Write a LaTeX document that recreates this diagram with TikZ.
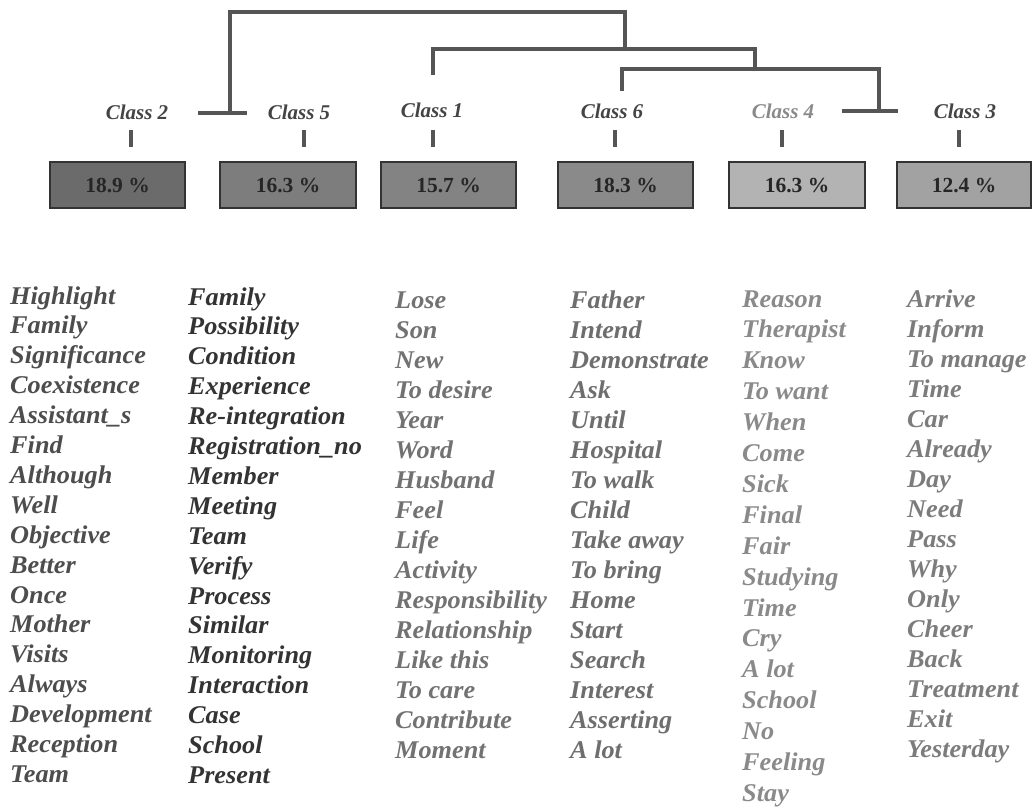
\documentclass[tikz,border=0pt]{standalone}
\usepackage{fontspec}
\setmainfont{Liberation Serif}
\newfontfamily\wordfont[FakeStretch=1.03]{Liberation Serif}
\definecolor{dend}{HTML}{555555}
\definecolor{boxA}{HTML}{6B6B6B}
\definecolor{boxB}{HTML}{7D7D7D}
\definecolor{boxC}{HTML}{838383}
\definecolor{boxD}{HTML}{8A8A8A}
\definecolor{boxE}{HTML}{B3B3B3}
\definecolor{boxF}{HTML}{A2A2A2}
\definecolor{wA}{HTML}{4D4D4D}
\definecolor{wB}{HTML}{333333}
\definecolor{wC}{HTML}{727272}
\definecolor{wD}{HTML}{6E6E6E}
\definecolor{wE}{HTML}{8A8A8A}
\definecolor{wF}{HTML}{7C7C7C}
\definecolor{clsdark}{HTML}{444444}
\definecolor{clslight}{HTML}{8A8A8A}
\begin{document}
\begin{tikzpicture}[x=1pt,y=-1pt,
  dline/.style={draw=dend,line width=3.5pt},
  tick/.style={draw=dend,line width=3.5pt},
  clabel/.style={font=\fontsize{21}{24}\selectfont\bfseries\itshape,text=clsdark,inner sep=0pt},
  pbox/.style={draw=black!80,line width=1.2pt,minimum height=46pt,inner sep=0pt,
    font=\fontsize{21.5}{24}\selectfont\bfseries,text=black!85},
  word/.style={anchor=base west,inner sep=0pt,
    font=\wordfont\fontsize{25.5}{30}\selectfont\bfseries\itshape}
]
\useasboundingbox (0,0) rectangle (1032,809);
\fill[white] (0,0) rectangle (1032,809);

% class labels
\node[clabel] (c2) at (137,112) {Class 2};
\node[clabel] (c5) at (299,112) {Class 5};
\node[clabel] (c1) at (432,110) {Class 1};
\node[clabel] (c6) at (612,111) {Class 6};
\node[clabel,text=clslight] (c4) at (783,111) {Class 4};
\node[clabel] (c3) at (965,111) {Class 3};

% boxes
\node[pbox,fill=boxA,minimum width=135pt] (b2) at (117.5,185) {18.9 \%};
\node[pbox,fill=boxB,minimum width=136pt] (b5) at (288,185) {16.3 \%};
\node[pbox,fill=boxC,minimum width=135pt] (b1) at (448.5,185) {15.7 \%};
\node[pbox,fill=boxD,minimum width=135pt] (b6) at (625.5,185) {18.3 \%};
\node[pbox,fill=boxE,minimum width=136pt] (b4) at (797,185) {16.3 \%};
\node[pbox,fill=boxF,minimum width=134pt] (b3) at (964,185) {12.4 \%};

% ticks between labels and boxes
\foreach \c/\x in {c2/131, c5/304, c1/433, c6/615, c4/782, c3/959}{
  \coordinate (t\c) at (\x,130);
  \coordinate (u\c) at (\x,147);
  \draw[tick] (t\c) -- (u\c);
}

% dendrogram
\coordinate (d1) at (230,113);
\coordinate (d1t) at (230,12);
\coordinate (d2t) at (625,12);
\coordinate (d2) at (625,49);
\coordinate (d3) at (433,75);
\coordinate (d3t) at (433,49);
\coordinate (d4t) at (755,49);
\coordinate (d4) at (755,69);
\coordinate (d5) at (622,91);
\coordinate (d5t) at (622,69);
\coordinate (d6t) at (879,69);
\coordinate (d6) at (879,111);
\draw[dline,line join=miter] (d1) -- (d1t) -- (d2t) -- (d2);
\draw[dline,line join=miter] (d3) -- (d3t) -- (d4t) -- (d4);
\draw[dline,line join=miter] (d5) -- (d5t) -- (d6t) -- (d6);
\coordinate (e1) at (198,113);
\coordinate (e2) at (247,113);
\coordinate (e3) at (842,111);
\coordinate (e4) at (898,111);
\draw[dline] (e1) -- (e2);
\draw[dline] (e3) -- (e4);

% word columns
\foreach \w [count=\i] in {Highlight,Family,Significance,Coexistence,Assistant\_s,Find,Although,Well,Objective,Better,Once,Mother,Visits,Always,Development,Reception,Team}
  \node[word,text=wA] (wa\i) at (10,{304+(\i-1)*29.9}) {\w};
\foreach \w [count=\i] in {Family,Possibility,Condition,Experience,Re-integration,Registration\_no,Member,Meeting,Team,Verify,Process,Similar,Monitoring,Interaction,Case,School,Present}
  \node[word,text=wB] (wb\i) at (188,{305+(\i-1)*29.9}) {\w};
\foreach \w [count=\i] in {Lose,Son,New,To desire,Year,Word,Husband,Feel,Life,Activity,Responsibility,Relationship,Like this,To care,Contribute,Moment}
  \node[word,text=wC] (wc\i) at (395,{308+(\i-1)*30}) {\w};
\foreach \w [count=\i] in {Father,Intend,Demonstrate,Ask,Until,Hospital,To walk,Child,Take away,To bring,Home,Start,Search,Interest,Asserting,A lot}
  \node[word,text=wD] (wd\i) at (570,{308+(\i-1)*30}) {\w};
\foreach \w [count=\i] in {Reason,Therapist,Know,To want,When,Come,Sick,Final,Fair,Studying,Time,Cry,A lot,School,No,Feeling,Stay}
  \node[word,text=wE] (we\i) at (742,{307+(\i-1)*30.9}) {\w};
\foreach \w [count=\i] in {Arrive,Inform,To manage,Time,Car,Already,Day,Need,Pass,Why,Only,Cheer,Back,Treatment,Exit,Yesterday}
  \node[word,text=wF] (wf\i) at (907,{307+(\i-1)*30}) {\w};
\end{tikzpicture}
\end{document}
